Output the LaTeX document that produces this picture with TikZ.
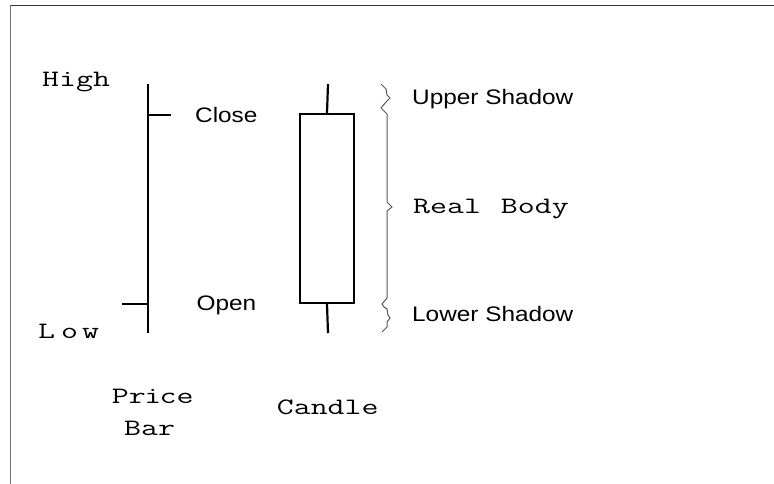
\documentclass[tikz,border=0pt]{standalone}
\usepackage{fontspec}
\newfontfamily\helv[FakeStretch=1.16]{Liberation Sans}
\newfontfamily\cour[FakeStretch=1.4]{Latin Modern Mono}
\tikzset{
  frameline/.style={line width=1.6pt},
  barline/.style={line width=2.2pt, black},
  bracel/.style={line width=1pt, black!65, line join=miter},
  sanslabel/.style={anchor=base west, inner sep=0pt, font=\helv\fontsize{21}{22}\selectfont},
  monolabel/.style={anchor=base west, inner sep=0pt, font=\cour\fontsize{23.5}{24}\selectfont},
}
\begin{document}
\begin{tikzpicture}[x=1pt, y=-1pt]
\useasboundingbox (0,0) rectangle (774,484);
\fill[white] (0,0) rectangle (774,484);

% outer frame (top and left edges)
\draw[frameline, black!55] (10.5,484) -- (10.5,5.5);
\draw[frameline, black!80] (10.5,5.5) -- (774,5.5);

% price bar
\coordinate (barHigh) at (148,84);
\coordinate (barLow) at (148,333);
\coordinate (closeL) at (148,115);
\coordinate (closeR) at (171,115);
\coordinate (openL) at (122,304);
\coordinate (openR) at (148,304);
\draw[barline] (barHigh) -- (barLow);
\draw[barline] (closeL) -- (closeR);
\draw[barline] (openL) -- (openR);

% candle
\coordinate (wickTop) at (328,84);
\coordinate (wickBot) at (328,333);
\node[draw, line width=2.2pt, minimum width=54pt, minimum height=189pt, inner sep=0pt]
  (body) at (327,208.5) {};
\draw[barline] (wickTop) -- (body.north);
\draw[barline] (body.south) -- (wickBot);

% zigzag brace alongside the candle
\draw[bracel] (381,84) -- (386,89) -- (387,95) -- (390,98) -- (386,102) -- (381,108)
  -- (384,111) -- (387,114) -- (387,202) -- (392,207) -- (387,211) -- (387,298)
  -- (382,304) -- (384,307) -- (387,309) -- (388,315) -- (390,318) -- (387,322)
  -- (387,327) -- (382,332);

% labels
\node[monolabel] (high) at (42,86.7) {High};
\node[monolabel] (low) at (38,338.3) {L\kern6pt o\kern4pt w};
\node[sanslabel] (close) at (195,122.5) {Close};
\node[sanslabel] (open) at (196.5,310.5) {Open};
\node[sanslabel] (upper) at (412,105) {Upper Shadow};
\node[monolabel] (real) at (413,213.3) {Real\kern20pt Body};
\node[sanslabel] (lower) at (412,321.7) {Lower Shadow};
\node[monolabel] (price) at (111.7,403.3) {Pr\kern-1.5pt i\kern-1.5pt ce};
\node[monolabel] (bar) at (124,435) {Bar};
\node[monolabel] (candle) at (276.7,414) {Candle};
\end{tikzpicture}
\end{document}
